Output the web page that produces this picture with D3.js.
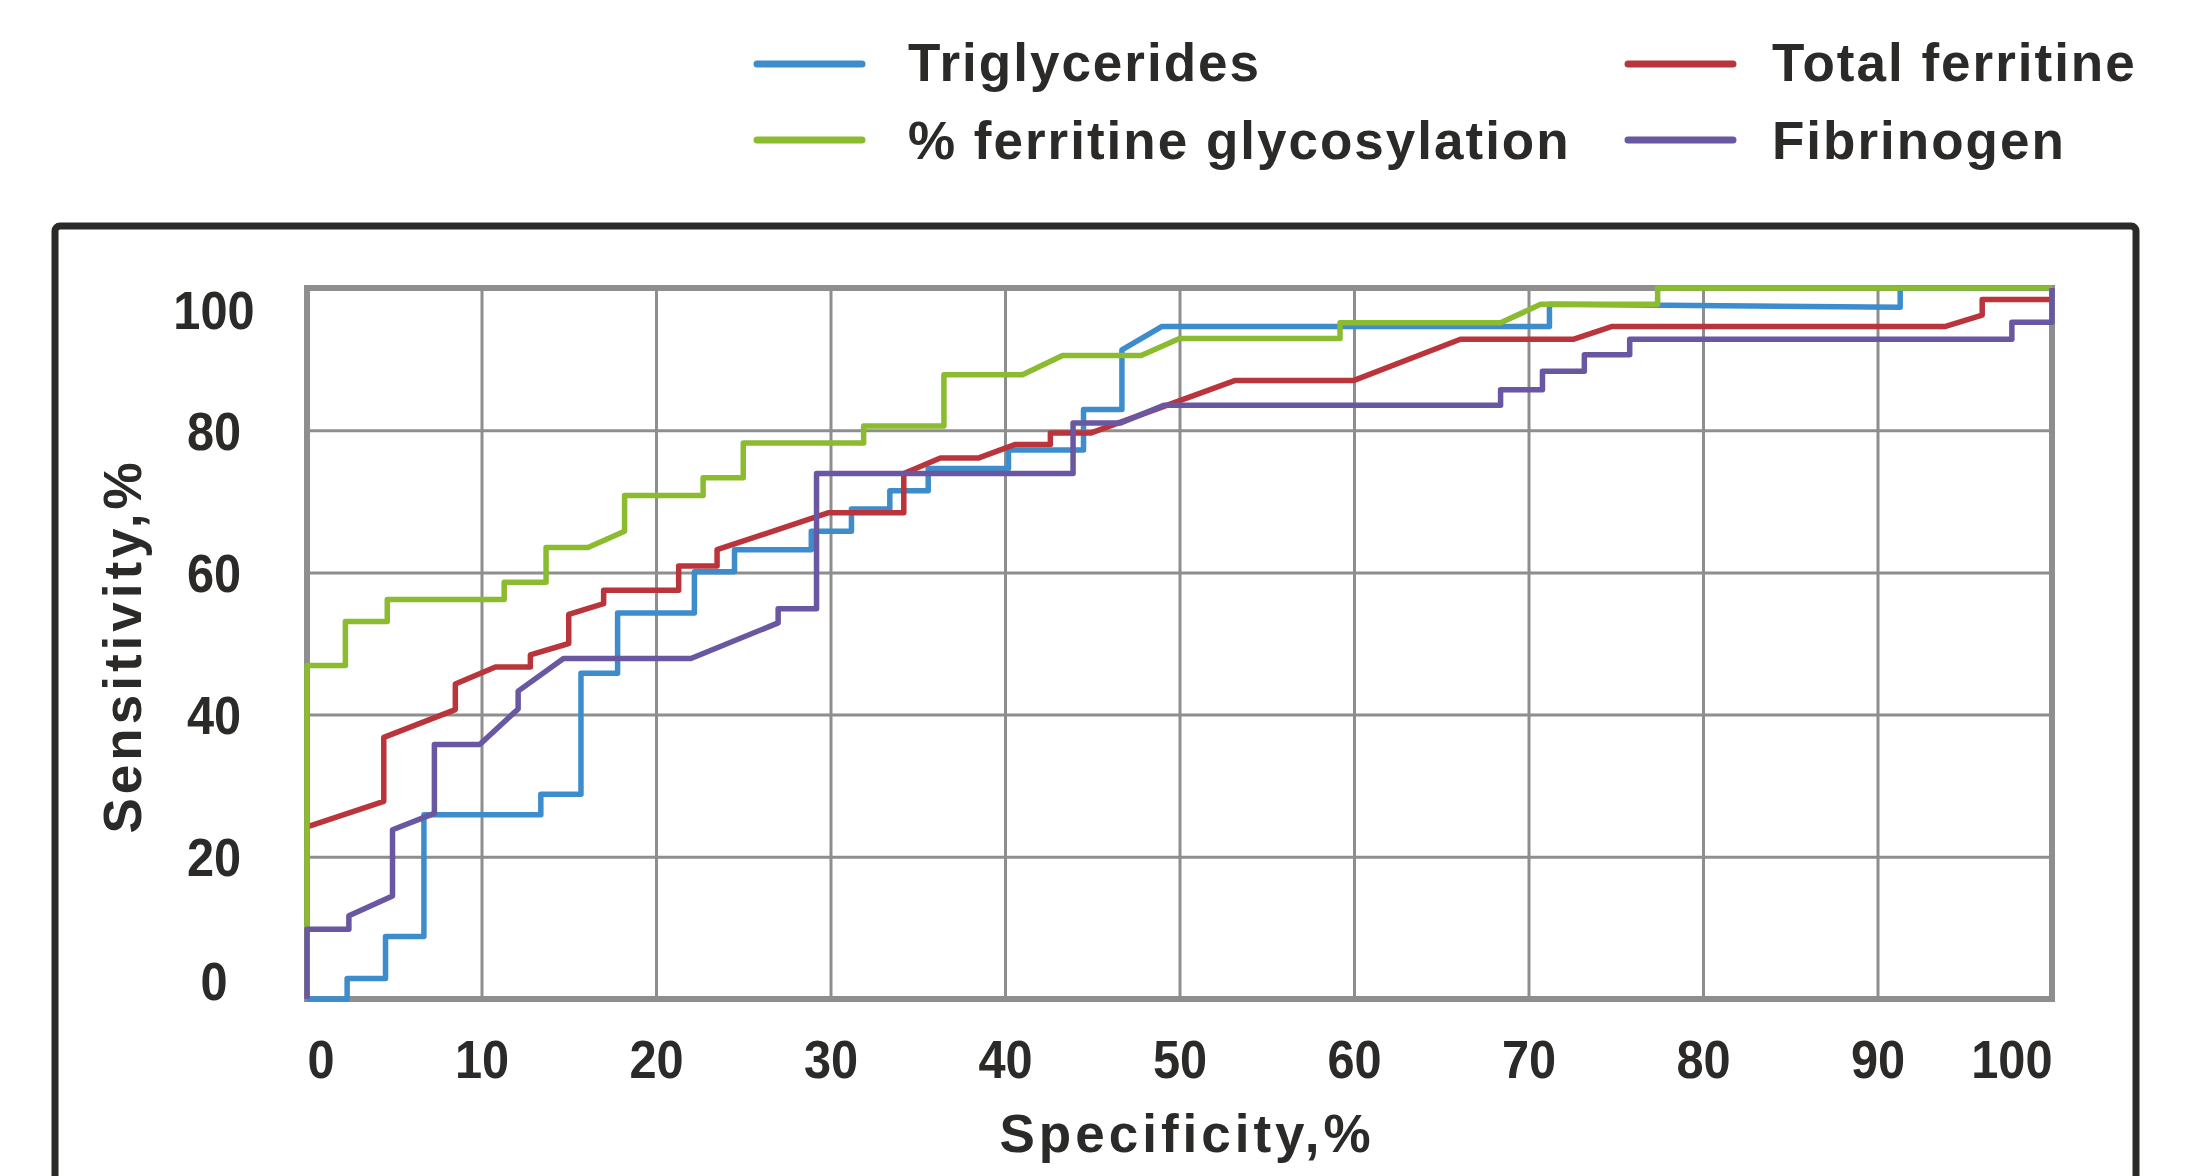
<!DOCTYPE html>
<html>
<head>
<meta charset="utf-8">
<script src="https://cdn.jsdelivr.net/npm/d3@7"></script>
<style>
  body { margin: 0; background: #fff; }
  text { font-family: "Liberation Sans", Arial, sans-serif; font-weight: bold; fill: #2b2a29; }
</style>
</head>
<body>
<div id="chart"></div>
<script>
// ##### data (specificity %, sensitivity %) #####
var triSpec = [0, 2.3, 2.3, 4.5, 4.5, 6.7, 6.7, 13.4, 13.4, 15.7, 15.7, 17.8, 17.8, 22.2, 22.2, 24.5, 24.5, 28.9, 28.9, 31.2, 31.2, 33.4, 33.4, 35.6, 35.6, 40.2, 40.2, 44.5, 44.5, 46.7, 46.7, 49.0, 71.2, 71.2, 91.3, 91.3, 100];
var triSens = [0, 0, 2.9, 2.9, 8.8, 8.8, 25.9, 25.9, 28.8, 28.8, 45.8, 45.8, 54.3, 54.3, 60.1, 60.1, 63.2, 63.2, 65.8, 65.8, 68.9, 68.9, 71.5, 71.5, 74.6, 74.6, 77.2, 77.2, 82.9, 82.9, 91.3, 94.6, 94.6, 97.7, 97.3, 100, 100];

var ferSpec = [0, 4.4, 4.4, 8.5, 8.5, 10.8, 12.8, 12.8, 15.0, 15.0, 17.0, 17.0, 21.3, 21.3, 23.5, 23.5, 29.9, 34.2, 34.2, 36.3, 38.5, 40.6, 42.6, 42.6, 44.9, 53.2, 60.0, 66.1, 72.6, 74.8, 93.9, 96.0, 96.0, 100];
var ferSens = [24.2, 27.8, 36.8, 40.7, 44.3, 46.7, 46.7, 48.4, 50.0, 54.1, 55.6, 57.5, 57.5, 60.9, 60.9, 63.2, 68.4, 68.4, 73.9, 76.1, 76.1, 78.0, 78.0, 79.6, 79.6, 87.0, 87.0, 92.8, 92.8, 94.6, 94.6, 96.2, 98.4, 98.4];

var glySpec = [0, 0, 2.2, 2.2, 4.6, 4.6, 11.3, 11.3, 13.7, 13.7, 16.1, 18.2, 18.2, 22.7, 22.7, 25.0, 25.0, 31.9, 31.9, 36.5, 36.5, 41.0, 43.3, 47.8, 50.0, 59.2, 59.2, 68.4, 70.7, 77.4, 77.4, 100];
var glySens = [0, 46.9, 46.9, 53.1, 53.1, 56.2, 56.2, 58.6, 58.6, 63.5, 63.5, 65.8, 70.8, 70.8, 73.3, 73.3, 78.2, 78.2, 80.6, 80.6, 87.8, 87.8, 90.5, 90.5, 92.9, 92.9, 95.1, 95.1, 97.7, 97.7, 100, 100];

var fibSpec = [0, 0, 2.4, 2.4, 4.9, 4.9, 7.3, 7.3, 9.9, 12.1, 12.1, 14.7, 22.0, 27.0, 27.0, 29.2, 29.2, 43.9, 43.9, 46.6, 49.1, 68.4, 68.4, 70.8, 70.8, 73.2, 73.2, 75.8, 75.8, 97.7, 97.7, 100, 100];
var fibSens = [0, 9.8, 9.8, 11.7, 14.5, 23.8, 26.1, 35.8, 35.8, 40.8, 43.3, 47.9, 47.9, 52.9, 54.9, 54.9, 73.9, 73.9, 81.0, 81.0, 83.5, 83.5, 85.7, 85.7, 88.3, 88.3, 90.6, 90.6, 92.8, 92.8, 95.2, 95.2, 100];

var seriesNames = ["Triglycerides", "Total ferritine", "% ferritine glycosylation", "Fibrinogen"];
var seriesColors = ["#3d8dcc", "#ba343b", "#8bbb2f", "#6957a1"];
var xTicks = [0, 10, 20, 30, 40, 50, 60, 70, 80, 90, 100];
var yTicks = [0, 20, 40, 60, 80, 100];

// ##### layout #####
var W = 2197, H = 1176;
var plot = {left: 307, right: 2052, top: 288, bottom: 999};

var svg = d3.select("#chart").append("svg")
	.attr("width", W)
	.attr("height", H);

// outer frame
svg.append("rect")
	.attr("x", 55).attr("y", 226)
	.attr("width", 2081).attr("height", 1100)
	.attr("rx", 5)
	.attr("fill", "#fff")
	.attr("stroke", "#2b2a29")
	.attr("stroke-width", 7);

var x = d3.scaleLinear().domain([0, 100]).range([plot.left, plot.right]);
var y = d3.scaleLinear().domain([0, 100]).range([plot.bottom, plot.top]);

// grid + labels via axes
var gx = svg.append("g")
	.attr("transform", "translate(0," + plot.bottom + ")")
	.call(d3.axisBottom(x).tickValues(xTicks).tickSize(-(plot.bottom - plot.top)).tickFormat(d3.format("d")));
gx.select(".domain").remove();
gx.selectAll("line").attr("stroke", "#8e8e8e").attr("stroke-width", 3);
gx.selectAll("text")
	.attr("y", 79).attr("dy", 0)
	.style("font-size", "53px")
	.attr("text-anchor", function(d) { return d === 0 ? "start" : (d === 100 ? "end" : "middle"); })
	.attr("transform", "scale(0.92,1)");

var gy = svg.append("g")
	.attr("transform", "translate(" + plot.left + ",0)")
	.call(d3.axisLeft(y).tickValues(yTicks).tickSize(-(plot.right - plot.left)).tickFormat(d3.format("d")));
gy.select(".domain").remove();
gy.selectAll("line").attr("stroke", "#8e8e8e").attr("stroke-width", 3);
gy.selectAll("text")
	.attr("x", 0)
	.attr("y", function(d) { return d === 100 ? 21 : (d === 0 ? -19 : 0); })
	.attr("dy", "0.36em")
	.attr("text-anchor", "middle")
	.style("font-size", "53px")
	.attr("transform", "translate(" + (214 - plot.left) + ",0) scale(0.92,1)");

// plot border
svg.append("rect")
	.attr("x", plot.left).attr("y", plot.top)
	.attr("width", plot.right - plot.left).attr("height", plot.bottom - plot.top)
	.attr("fill", "none")
	.attr("stroke", "#8e8e8e")
	.attr("stroke-width", 6);

// ROC lines
var series = [
	{name: seriesNames[0], spec: triSpec, sens: triSens},
	{name: seriesNames[1], spec: ferSpec, sens: ferSens},
	{name: seriesNames[2], spec: glySpec, sens: glySens},
	{name: seriesNames[3], spec: fibSpec, sens: fibSens}
];

var line = d3.line()
	.x(function(d) { return x(d[0]); })
	.y(function(d) { return y(d[1]); });

svg.selectAll(".roc")
	.data(series)
	.enter().append("path")
	  .attr("class", "roc")
	  .attr("d", function(s) { return line(d3.zip(s.spec, s.sens)); })
	  .attr("fill", "none")
	  .attr("stroke", function(s, i) { return seriesColors[i]; })
	  .attr("stroke-width", 5.5)
	  .attr("stroke-linejoin", "round");

// axis titles
svg.append("text")
	.attr("transform", "translate(141,646) rotate(-90)")
	.attr("text-anchor", "middle")
	.style("font-size", "53px")
	.style("letter-spacing", "4px")
	.text("Sensitivity,%");

svg.append("text")
	.attr("x", 1187).attr("y", 1152)
	.attr("text-anchor", "middle")
	.style("font-size", "53px")
	.style("letter-spacing", "4px")
	.text("Specificity,%");

// legend (two columns, row major)
var legPos = [
	{lx: 757, tx: 908, ly: 64, ty: 81},
	{lx: 1628, tx: 1772, ly: 64, ty: 81},
	{lx: 757, tx: 908, ly: 140, ty: 159},
	{lx: 1628, tx: 1772, ly: 140, ty: 159}
];
var leg = svg.selectAll(".leg")
	.data(series)
	.enter().append("g")
	  .attr("class", "leg");
leg.append("line")
	.attr("x1", function(d, i) { return legPos[i].lx; })
	.attr("x2", function(d, i) { return legPos[i].lx + 105; })
	.attr("y1", function(d, i) { return legPos[i].ly; })
	.attr("y2", function(d, i) { return legPos[i].ly; })
	.attr("stroke", function(d, i) { return seriesColors[i]; })
	.attr("stroke-width", 7)
	.attr("stroke-linecap", "round");
leg.append("text")
	.attr("x", function(d, i) { return legPos[i].tx; })
	.attr("y", function(d, i) { return legPos[i].ty; })
	.style("font-size", "53px")
	.style("letter-spacing", "2px")
	.text(function(d) { return d.name; });
</script>
</body>
</html>
